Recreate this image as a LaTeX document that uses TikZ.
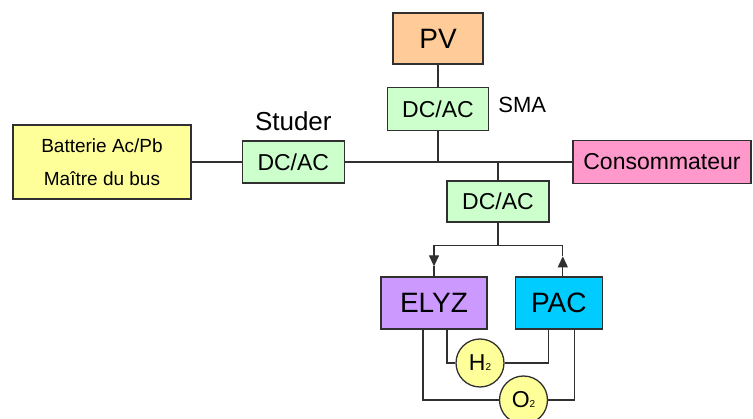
\documentclass[tikz,border=0pt]{standalone}
\usepackage{fontspec}
\setmainfont{Liberation Sans}
\setsansfont{Liberation Sans}
\usetikzlibrary{arrows.meta, positioning, calc}
\definecolor{pvcol}{HTML}{FFCC99}
\definecolor{convcol}{HTML}{CCFFCC}
\definecolor{battcol}{HTML}{FFFF99}
\definecolor{loadcol}{HTML}{FF99CC}
\definecolor{elyzcol}{HTML}{CC99FF}
\definecolor{paccol}{HTML}{00CCFF}
\definecolor{gascol}{HTML}{FFFF99}
\definecolor{linecol}{HTML}{303030}

\begin{document}
\begin{tikzpicture}[
    x=1pt, y=1pt,
    >={Triangle[length=11pt,width=10pt]},
    every node/.style={font=\sffamily},
    block/.style={
        draw=linecol, line width=1.3pt, inner sep=0pt, text=black,
        text centered
    },
    conv/.style={
        block, fill=convcol, minimum width=102pt, minimum height=42pt,
        font=\sffamily\fontsize{23}{27}\selectfont
    },
    bigblock/.style={
        block, minimum height=52pt, font=\sffamily\fontsize{28}{32}\selectfont
    },
    gas/.style={
        draw=linecol, line width=1.3pt, circle, fill=gascol, inner sep=0pt,
        minimum size=48pt, font=\sffamily\fontsize{23}{27}\selectfont
    },
    lbl/.style={inner sep=0pt, text=black},
    wire/.style={line width=1.3pt, color=linecol},
    arrow/.style={->, line width=1.3pt, color=linecol},
]
\useasboundingbox (0,0) rectangle (753,-419);

% ===== Bus: battery, Studer, load =====
\node[block, fill=battcol, minimum width=178pt, minimum height=74pt, align=center,
      font=\sffamily\fontsize{19}{33}\selectfont] (batt) at (102,-162)
     {Batterie Ac/Pb\\Maître du bus};

\node[conv, right=50pt of batt,
      label={[lbl, font=\sffamily\fontsize{26}{30}\selectfont, label distance=9pt]above:Studer}] (studer) {DC/AC};

\node[block, fill=loadcol, minimum width=178pt, minimum height=43pt,
      font=\sffamily\fontsize{23}{27}\selectfont] (cons) at (662,-162) {Consommateur};

% ===== PV branch =====
\node[bigblock, fill=pvcol, minimum width=90pt, minimum height=51pt] (pv) at (438,-38.5) {PV};
\node[conv, minimum width=101pt, minimum height=43pt, below=22pt of pv] (sma) {DC/AC};
\node[lbl, font=\sffamily\fontsize{22}{26}\selectfont, right=9pt of sma, yshift=4pt] (smalbl) {SMA};

% ===== Hydrogen branch =====
\node[conv, minimum height=41pt] (dcac) at (498,-201.5) {DC/AC};
\node[bigblock, fill=elyzcol, minimum width=106pt] (elyz) at (434,-303) {ELYZ};
\node[bigblock, fill=paccol, minimum width=87pt, right=27pt of elyz] (pac) {PAC};

\node[gas] (h2) at (480,-363) {H{\fontsize{10}{10}\selectfont 2}};
\node[gas] (o2) at (523.5,-400) {O{\fontsize{10}{10}\selectfont 2}};

% ===== Wires =====
\draw[wire] (batt) -- (studer);
\draw[wire] (studer) -- (cons);
\draw[wire] (pv) -- (sma);
\draw[wire] (sma.south) -- (sma.south |- studer.east);
\draw[wire] (dcac.north) -- (dcac.north |- cons.west);

\coordinate (split) at ($(dcac.south)+(0,-23)$);
\coordinate (elyzin) at ($(elyz.north)+(0,10)$);
\coordinate (pacbot) at ($(pac.north)+(4,0)$);
\coordinate (pacout) at ($(pacbot)+(0,20)$);
\draw[wire] (dcac.south) -- (split);
\draw[arrow] (split) -| (elyzin);
\draw[wire] (elyzin) -- (elyz.north);
\draw[arrow] (pacbot) -- (pacout);
\draw[wire] (pacout) |- (split);

% gas loops
\draw[wire] ([xshift=13pt]elyz.south) |- (h2.west);
\draw[wire] (h2.east) -| ([xshift=-10pt]pac.south);
\draw[wire] ([xshift=-11pt]elyz.south) |- (o2.west);
\draw[wire] (o2.east) -| ([xshift=16pt]pac.south);

\end{tikzpicture}
\end{document}
